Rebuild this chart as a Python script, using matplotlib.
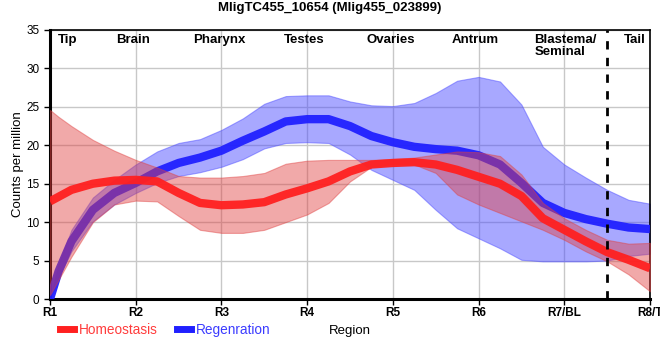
import matplotlib
matplotlib.use("Agg")
import matplotlib.pyplot as plt
from matplotlib.lines import Line2D

plt.rcParams['font.family'] = ['Liberation Sans', 'DejaVu Sans']

# positions along the body (R1 = 0 ... R8/T = 7)
pos = [0, 0.1, 0.25, 0.5, 0.75, 1, 1.25, 1.5, 1.75, 2, 2.25, 2.5, 2.75, 3, 3.25,
       3.5, 3.75, 4, 4.25, 4.5, 4.75, 5, 5.25, 5.5, 5.75, 6, 6.25, 6.5, 6.75, 7]

# Homeostasis
homeo_mean = [12.7, 13.3, 14.2, 15.0, 15.4, 15.5, 15.3, 13.8, 12.5, 12.2, 12.3, 12.6,
              13.6, 14.4, 15.3, 16.6, 17.5, 17.7, 17.8, 17.5, 16.8, 15.9, 15.0, 13.4,
              10.5, 9.0, 7.5, 6.1, 5.1, 4.0]
homeo_hi = [24.6, 23.7, 22.5, 20.7, 19.3, 18.1, 17.1, 16.0, 15.8, 15.8, 16.0, 16.4,
            17.6, 18.0, 18.1, 18.1, 18.1, 18.2, 18.4, 18.8, 19.2, 19.1, 18.6, 16.2,
            12.5, 10.5, 9.0, 7.7, 7.2, 7.3]
homeo_lo = [0.5, 2.5, 5.5, 10.0, 12.3, 12.8, 12.7, 10.8, 9.0, 8.6, 8.6, 9.0,
            10.0, 11.0, 12.5, 15.3, 17.2, 17.6, 17.5, 16.4, 13.6, 12.3, 11.2, 10.1,
            9.0, 7.7, 6.2, 4.9, 3.2, 1.0]

# Regeneration
regen_mean = [0, 3.6, 7.5, 11.6, 13.8, 15.1, 16.6, 17.7, 18.4, 19.3, 20.6, 21.8,
              23.1, 23.4, 23.4, 22.5, 21.2, 20.4, 19.8, 19.5, 19.3, 18.7, 17.5, 15.1,
              12.5, 11.2, 10.4, 9.8, 9.3, 9.1]
regen_hi = [0, 4.5, 9.0, 13.2, 15.5, 17.5, 19.2, 20.3, 20.8, 22.0, 23.5, 25.4,
            26.4, 26.5, 26.5, 25.7, 25.2, 25.1, 25.5, 26.8, 28.4, 28.9, 28.3, 25.3,
            19.8, 17.5, 15.8, 14.2, 12.9, 12.4]
regen_lo = [0, 2.8, 6.2, 10.1, 12.3, 13.8, 15.1, 16.0, 16.5, 17.2, 18.2, 19.6,
            20.3, 20.4, 20.3, 18.8, 16.8, 15.5, 14.2, 11.6, 9.2, 7.9, 6.6, 5.1,
            4.9, 4.9, 4.9, 5.0, 5.6, 5.9]

tick_labels = ['R1', 'R2', 'R3', 'R4', 'R5', 'R6', 'R7/BL', 'R8/T']
regions = ['Tip', 'Brain', 'Pharynx', 'Testes', 'Ovaries', 'Antrum', 'Blastema/\nSeminal', 'Tail']
region_pos = [0.2, 0.97, 1.98, 2.96, 3.97, 4.96, 5.65, 6.82]

fig = plt.figure(figsize=(6.6, 3.6), dpi=100)
ax = fig.add_axes([50/660, 61/360, 600/660, 269/360])

red = '#ff2020'
blue = '#2020ff'

ax.fill_between(pos, regen_lo, regen_hi, color='#4a4aff', alpha=0.48, lw=0.8, zorder=2)
ax.plot(pos, regen_mean, color=blue, lw=6, alpha=0.95, solid_capstyle='butt', zorder=3)
ax.fill_between(pos, homeo_lo, homeo_hi, color='#e04040', alpha=0.45, lw=0.8, zorder=4)
ax.plot(pos, homeo_mean, color=red, lw=6, alpha=0.95, solid_capstyle='butt', zorder=5)

ax.axvline(6.5, color='black', ls=(0, (3, 3)), lw=2, zorder=6)

ax.set_xlim(0, 7)
ax.set_ylim(0, 35)
ax.set_xticks(range(8))
ax.set_xticklabels(tick_labels, fontsize=8.5, fontweight='bold')
ax.set_yticks(range(0, 36, 5))
ax.tick_params(axis='y', labelsize=8.5, length=4, width=1)
ax.tick_params(axis='x', length=4, width=1, pad=2)
ax.grid(True, color='#c8c8c8', lw=1, zorder=0)
ax.set_axisbelow(True)

for s in ['left', 'bottom']:
    ax.spines[s].set_linewidth(2.2)
for s in ['top', 'right']:
    ax.spines[s].set_linewidth(1.2)

for name, x in zip(regions, region_pos):
    ha = 'left' if '\n' in name else 'center'
    ax.text(x, 0.985, name, transform=ax.get_xaxis_transform(), ha=ha, va='top',
            fontsize=9.5, fontweight='bold', linespacing=1.05, zorder=7)

ax.set_ylabel('Counts per million', fontsize=9.5, labelpad=2)
ax.set_xlabel('Region', fontsize=9.5, labelpad=4)
fig.suptitle('MligTC455_10654 (Mlig455_023899)', fontsize=9.5, fontweight='bold', y=0.995)

handles = [Line2D([], [], color=red, lw=5), Line2D([], [], color=blue, lw=5)]
leg = fig.legend(handles, ['Homeostasis', 'Regenration'], loc='center left',
                 bbox_to_anchor=(0.083, 0.083), ncol=2, frameon=False, fontsize=9.8,
                 handlelength=1.0, handletextpad=0.4, columnspacing=1.4, borderaxespad=0)
for t, c in zip(leg.get_texts(), ['#ff3c3c', '#3c3cff']):
    t.set_color(c)

fig.savefig('out.png', dpi=100)
